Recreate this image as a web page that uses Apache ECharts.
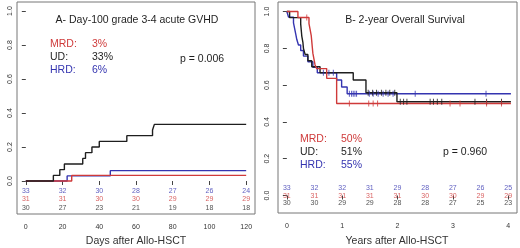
<!DOCTYPE html>
<html>
<head>
<meta charset="utf-8">
<script src="https://cdn.jsdelivr.net/npm/echarts@6/dist/echarts.min.js"></script>
<style>
  html, body { margin: 0; padding: 0; background: #fff; }
  #chart { width: 520px; height: 248px; }
</style>
</head>
<body>
<div id="chart"></div>
<script>
// ---- data ----
var RED = '#cf3a3a', BLUE = '#3434b0', BLACK = '#1e1e1e';

// A: cumulative incidence of grade 3-4 aGVHD, [day, value] (step changes)
var gvhdUD  = [[0, 0], [15, 0.033], [18.5, 0.067], [21, 0.1], [31, 0.133], [32.5, 0.167], [36, 0.2], [40, 0.233], [55, 0.267], [69, 0.3], [70, 0.333], [120, 0.333]];
var gvhdMRD = [[0, 0], [25, 0.033], [120, 0.033]];
var gvhdHRD = [[0, 0], [22.5, 0.030], [46, 0.061], [120, 0.061]];
var dayTicks = [0, 20, 40, 60, 80, 100, 120];
var riskA_HRD = [33, 32, 30, 28, 27, 26, 24];
var riskA_MRD = [31, 31, 30, 30, 29, 29, 29];
var riskA_UD  = [30, 27, 23, 21, 19, 18, 18];

// B: overall survival, [year, survival]
var osUD  = [[0, 1], [0.05, 0.967], [0.25, 0.933], [0.26, 0.9], [0.27, 0.867], [0.29, 0.833], [0.3, 0.8], [0.33, 0.767], [0.38, 0.733], [0.45, 0.7], [0.6, 0.667], [1.2, 0.628], [1.43, 0.559], [1.99, 0.51], [4.05, 0.51]];
var osMRD = [[0, 1], [0.2, 0.968], [0.4, 0.935], [0.42, 0.903], [0.44, 0.871], [0.45, 0.839], [0.46, 0.806], [0.47, 0.774], [0.49, 0.742], [0.51, 0.71], [0.54, 0.69], [0.72, 0.637], [0.9, 0.5], [4.05, 0.5]];
var osHRD = [[0, 1], [0.03, 0.97], [0.12, 0.939], [0.14, 0.909], [0.16, 0.879], [0.18, 0.848], [0.21, 0.818], [0.25, 0.788], [0.3, 0.758], [0.38, 0.727], [0.47, 0.697], [0.55, 0.667], [0.9, 0.628], [0.99, 0.59], [1.09, 0.553], [4.05, 0.553]];
var censUD  = [[1.47, 0.559], [1.55, 0.559], [1.62, 0.559], [1.71, 0.559], [1.79, 0.559], [1.86, 0.559], [1.95, 0.559], [2.05, 0.51], [2.11, 0.51], [2.17, 0.51], [2.59, 0.51], [2.65, 0.51], [2.72, 0.51], [2.8, 0.51], [3.4, 0.51], [3.61, 0.51], [3.88, 0.51]];
var censMRD = [[0.36, 0.968], [1.13, 0.5], [1.48, 0.5], [1.56, 0.5], [1.64, 0.5], [2.95, 0.5], [3.13, 0.5], [3.61, 0.5], [3.88, 0.5]];
var censHRD = [[0.66, 0.667], [0.76, 0.667], [0.84, 0.667], [1.13, 0.553], [1.17, 0.553], [1.2, 0.553], [1.23, 0.553], [1.26, 0.553], [1.49, 0.553], [1.56, 0.553], [1.65, 0.553], [1.74, 0.553], [1.83, 0.553], [1.92, 0.553], [2.32, 0.553], [3.6, 0.553]];
var yearTicks = [0, 1, 2, 3, 4];
var riskYears = [0, 0.5, 1, 1.5, 2, 2.5, 3, 3.5, 4];
var riskB_HRD = [33, 32, 32, 31, 29, 28, 27, 26, 25];
var riskB_MRD = [31, 31, 31, 31, 31, 30, 30, 29, 29];
var riskB_UD  = [30, 30, 29, 29, 28, 28, 27, 25, 23];

var yTicks = [0, 0.2, 0.4, 0.6, 0.8, 1.0];

var chart = echarts.init(document.getElementById('chart'));
var FONT = 'Liberation Sans';

function xAxisFor(gi, min, max, ticks) {
    return {
        gridIndex: gi, type: 'value', min: min, max: max,
        axisLine: { show: false }, splitLine: { show: false },
        axisTick: { show: true, length: 4, customValues: ticks, lineStyle: { color: '#444' } },
        axisLabel: { customValues: ticks, margin: 10, fontSize: 7, color: '#333', fontFamily: FONT }
    };
}
function yAxisFor(gi, min, max, margin) {
    return {
        gridIndex: gi, type: 'value', min: min, max: max,
        axisLine: { show: false }, splitLine: { show: false },
        axisTick: { show: true, length: 4, customValues: yTicks, lineStyle: { color: '#444' } },
        axisLabel: { customValues: yTicks, rotate: 90, margin: margin, fontSize: 7, color: '#333', fontFamily: FONT,
            formatter: function (v) { return v.toFixed(1); } }
    };
}
function stepLine(gi, data, color) {
    return { type: 'line', xAxisIndex: gi, yAxisIndex: gi, step: 'end', data: data, showSymbol: false,
        lineStyle: { color: color, width: 1.4 }, animation: false, z: 3 };
}
function censor(gi, data, color) {
    return { type: 'scatter', xAxisIndex: gi, yAxisIndex: gi, data: data, symbol: 'rect', symbolSize: [1, 6],
        itemStyle: { color: color }, animation: false, z: 4 };
}
function riskRow(gi, xs, counts, yRow, color) {
    return { type: 'scatter', xAxisIndex: gi, yAxisIndex: gi, symbolSize: 0, animation: false,
        data: xs.map(function (x, i) { return [x, yRow, counts[i]]; }),
        label: { show: true, position: 'inside', fontSize: 7, color: color, fontFamily: FONT,
            formatter: function (p) { return p.value[2]; } } };
}
function txt(x, y, s, color, align) {
    return { type: 'text', x: x, y: y, silent: true,
        style: { text: s, fill: color, font: '10.5px "' + FONT + '"', align: align || 'left', verticalAlign: 'middle' } };
}

chart.setOption({
    backgroundColor: '#fff',
    grid: [
        { left: 17, top: 2, width: 238, height: 212, show: true, borderColor: '#777', borderWidth: 1 },
        { left: 278, top: 2, width: 239, height: 211, show: true, borderColor: '#777', borderWidth: 1 }
    ],
    xAxis: [xAxisFor(0, -4.8, 124.8, dayTicks), xAxisFor(1, -0.16, 4.16, yearTicks)],
    yAxis: [yAxisFor(0, -0.194, 1.053, 3), yAxisFor(1, -0.095, 1.052, 7)],
    series: [
        stepLine(0, gvhdHRD, BLUE), stepLine(0, gvhdMRD, RED), stepLine(0, gvhdUD, BLACK),
        riskRow(0, dayTicks, riskA_HRD, -0.057, BLUE),
        riskRow(0, dayTicks, riskA_MRD, -0.104, RED),
        riskRow(0, dayTicks, riskA_UD, -0.159, BLACK),
        stepLine(1, osHRD, BLUE), stepLine(1, osUD, BLACK), stepLine(1, osMRD, RED),
        censor(1, censHRD, BLUE), censor(1, censUD, BLACK), censor(1, censMRD, RED),
        riskRow(1, riskYears, riskB_HRD, 0.041, BLUE),
        riskRow(1, riskYears, riskB_MRD, -0.001, RED),
        riskRow(1, riskYears, riskB_UD, -0.042, BLACK)
    ],
    graphic: [
        txt(137, 20, 'A- Day-100 grade 3-4 acute GVHD', BLACK, 'center'),
        txt(50, 44, 'MRD:', RED), txt(92, 44, '3%', RED),
        txt(50, 57, 'UD:', BLACK), txt(92, 57, '33%', BLACK),
        txt(50, 70, 'HRD:', BLUE), txt(92, 70, '6%', BLUE),
        txt(180, 59, 'p = 0.006', BLACK),
        txt(136, 241, 'Days after Allo-HSCT', '#333', 'center'),
        txt(405, 20, 'B- 2-year Overall Survival', BLACK, 'center'),
        txt(300, 139, 'MRD:', RED), txt(341, 139, '50%', RED),
        txt(300, 152, 'UD:', BLACK), txt(341, 152, '51%', BLACK),
        txt(300, 165, 'HRD:', BLUE), txt(341, 165, '55%', BLUE),
        txt(443, 152, 'p = 0.960', BLACK),
        txt(397, 241, 'Years after Allo-HSCT', '#333', 'center')
    ]
});
</script>
</body>
</html>
